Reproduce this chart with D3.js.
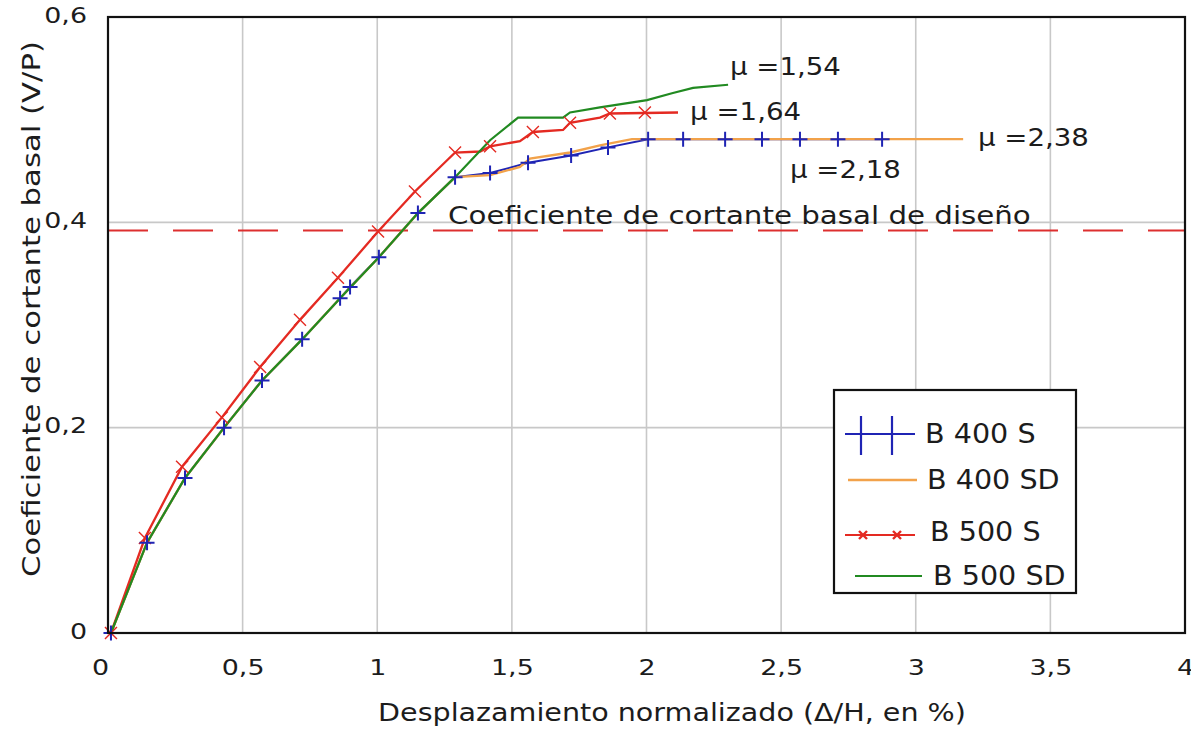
<!DOCTYPE html>
<html>
<head>
<meta charset="utf-8">
<script src="https://cdn.jsdelivr.net/npm/d3@7"></script>
<style>
  body { margin: 0; background: #fff; }
  svg { display: block; }
  text { font-family: "DejaVu Sans", Verdana, sans-serif; fill: #1c1c1c; }
</style>
</head>
<body>
<svg id="chart" width="1191" height="729"></svg>
<script>
// Pushover curves: base shear coefficient versus normalized roof drift

const xTicks = [0, 0.5, 1, 1.5, 2, 2.5, 3, 3.5, 4];
const yTicks = [0, 0.2, 0.4, 0.6];
const seriesNames = ["B 400 S", "B 400 SD", "B 500 S", "B 500 SD"];

// B 400 S (points carry markers)
const b400sX = [0.011, 0.145, 0.286, 0.431, 0.572, 0.721, 0.862, 0.899, 1.006, 1.151, 1.289, 1.419, 1.560, 1.720, 1.857, 2.006, 2.136, 2.292, 2.429, 2.570, 2.711, 2.875];
const b400sY = [0, 0.088, 0.151, 0.200, 0.246, 0.286, 0.326, 0.337, 0.366, 0.409, 0.444, 0.448, 0.458, 0.465, 0.473, 0.481, 0.481, 0.481, 0.481, 0.481, 0.481, 0.481];

// B 400 SD
const b400sdX = [0.011, 0.145, 0.286, 0.431, 0.572, 0.721, 0.862, 1.006, 1.151, 1.289, 1.419, 1.530, 1.567, 1.716, 1.827, 1.946, 3.176];
const b400sdY = [0, 0.088, 0.151, 0.200, 0.246, 0.286, 0.326, 0.366, 0.409, 0.444, 0.446, 0.454, 0.462, 0.468, 0.475, 0.481, 0.481];

// B 500 S (line and marker positions)
const b500sX = [0.011, 0.137, 0.275, 0.423, 0.565, 0.713, 0.854, 1.003, 1.140, 1.289, 1.382, 1.419, 1.530, 1.578, 1.690, 1.716, 1.827, 1.864, 2.117];
const b500sY = [0, 0.0925, 0.162, 0.210, 0.259, 0.305, 0.346, 0.391, 0.430, 0.468, 0.469, 0.474, 0.479, 0.488, 0.490, 0.497, 0.502, 0.506, 0.507];
const b500sMarkX = [0.011, 0.137, 0.275, 0.423, 0.565, 0.713, 0.854, 1.003, 1.140, 1.289, 1.419, 1.578, 1.716, 1.864, 1.994];
const b500sMarkY = [0, 0.0925, 0.162, 0.210, 0.259, 0.305, 0.346, 0.391, 0.430, 0.468, 0.474, 0.488, 0.497, 0.506, 0.507];

// B 500 SD
const b500sdX = [0.011, 0.145, 0.286, 0.431, 0.572, 0.721, 0.862, 1.006, 1.151, 1.289, 1.419, 1.523, 1.690, 1.716, 1.827, 2.002, 2.098, 2.173, 2.303];
const b500sdY = [0, 0.088, 0.151, 0.200, 0.246, 0.286, 0.326, 0.366, 0.409, 0.444, 0.480, 0.502, 0.502, 0.507, 0.512, 0.519, 0.526, 0.531, 0.534];

// Design base shear coefficient
const designCoef = 0.392;
const designText = "Coeficiente de cortante basal de diseño";

// Ductility annotations
const muText = ["μ =1,54", "μ =1,64", "μ =2,38", "μ =2,18"];
const muX = [2.310, 2.162, 3.231, 2.533];
const muY = [0.5435, 0.4997, 0.4743, 0.4432];

const xTitle = "Desplazamiento normalizado (Δ/H, en %)";
const yTitle = "Coeficiente de cortante basal (V/P)";

// ---------------------------------------------------------------------------
const COLORS = { b400s: "#1f24b4", b400sd: "#f2a24a", b500s: "#e42a22", b500sd: "#218a21" };
const plot = { left: 108, right: 1185, top: 17, bottom: 633 };

const svg = d3.select("#chart");
const x = d3.scaleLinear().domain([0, 4]).range([plot.left, plot.right]);
const y = d3.scaleLinear().domain([0, 0.6]).range([plot.bottom, plot.top]);
const fmt = d => String(d).replace(".", ",");

// Widen lettering horizontally, keeping the requested anchor.
function widen(sel, k, anchor) {
  sel.each(function () {
    const w = this.getComputedTextLength() * k;
    const x0 = +(this.getAttribute("x") || 0);
    this.setAttribute("textLength", w);
    this.setAttribute("lengthAdjust", "spacingAndGlyphs");
    this.setAttribute("text-anchor", "start");
    const shift = anchor === "middle" ? -w / 2 : anchor === "end" ? -w : 0;
    this.setAttribute("x", x0 + shift);
  });
}

// Grid
const grid = svg.append("g");
grid.selectAll("line.vx").data(xTicks.filter(d => d > 0 && d < 4)).join("line")
  .attr("x1", d => x(d)).attr("x2", d => x(d))
  .attr("y1", plot.top).attr("y2", plot.bottom)
  .attr("stroke", "#c8c8c8").attr("stroke-width", 1.6);
grid.selectAll("line.hy").data(yTicks.filter(d => d > 0 && d < 0.6)).join("line")
  .attr("x1", plot.left).attr("x2", plot.right)
  .attr("y1", d => y(d)).attr("y2", d => y(d))
  .attr("stroke", "#c8c8c8").attr("stroke-width", 1.6);

// Axes (labels only, frame drawn separately)
const xAxis = svg.append("g").attr("transform", `translate(0,${plot.bottom})`)
  .call(d3.axisBottom(x).tickValues(xTicks).tickSize(0).tickFormat(fmt));
xAxis.select(".domain").remove();
xAxis.selectAll("text")
  .attr("font-size", 21).attr("font-family", "DejaVu Sans, sans-serif")
  .attr("fill", "#1c1c1c")
  .attr("y", 42).attr("dy", 0)
  .attr("x", d => d === 0 ? -8 : 0);
widen(xAxis.selectAll("text"), 1.28, "middle");

const yAxis = svg.append("g").attr("transform", `translate(${plot.left},0)`)
  .call(d3.axisLeft(y).tickValues(yTicks).tickSize(0).tickFormat(fmt));
yAxis.select(".domain").remove();
yAxis.selectAll("text")
  .attr("font-size", 21).attr("font-family", "DejaVu Sans, sans-serif")
  .attr("fill", "#1c1c1c")
  .attr("x", -21).attr("y", 5).attr("dy", 0);
widen(yAxis.selectAll("text"), 1.28, "end");

// Design coefficient line
svg.append("line")
  .attr("x1", plot.left).attr("x2", plot.right)
  .attr("y1", y(designCoef)).attr("y2", y(designCoef))
  .attr("stroke", "#dd2f2f").attr("stroke-width", 2)
  .attr("stroke-dasharray", "40,25");

const line = d3.line().x(d => x(d[0])).y(d => y(d[1]));
const plotG = svg.append("g");

plotG.append("path").datum(d3.zip(b400sX, b400sY)).attr("d", line)
  .attr("fill", "none").attr("stroke", COLORS.b400s).attr("stroke-width", 2);
plotG.append("path").datum(d3.zip(b400sdX, b400sdY)).attr("d", line)
  .attr("fill", "none").attr("stroke", COLORS.b400sd).attr("stroke-width", 2.4);
plotG.append("path").datum(d3.zip(b500sX, b500sY)).attr("d", line)
  .attr("fill", "none").attr("stroke", COLORS.b500s).attr("stroke-width", 2.3);
plotG.append("path").datum(d3.zip(b500sdX, b500sdY)).attr("d", line)
  .attr("fill", "none").attr("stroke", COLORS.b500sd).attr("stroke-width", 2.2);

// Markers: "x" for B 500 S, "+" for B 400 S
const xMark = 6, pMark = 7.5;
plotG.selectAll("path.mx").data(d3.zip(b500sMarkX, b500sMarkY)).join("path")
  .attr("d", d => {
    const cx = x(d[0]), cy = y(d[1]);
    return `M${cx - xMark},${cy - xMark}L${cx + xMark},${cy + xMark}M${cx - xMark},${cy + xMark}L${cx + xMark},${cy - xMark}`;
  })
  .attr("stroke", COLORS.b500s).attr("stroke-width", 1.4).attr("fill", "none");
plotG.selectAll("path.mp").data(d3.zip(b400sX, b400sY)).join("path")
  .attr("d", d => {
    const cx = x(d[0]), cy = y(d[1]);
    return `M${cx - pMark},${cy}L${cx + pMark},${cy}M${cx},${cy - pMark}L${cx},${cy + pMark}`;
  })
  .attr("stroke", COLORS.b400s).attr("stroke-width", 2).attr("fill", "none");

// Frame
svg.append("rect")
  .attr("x", plot.left).attr("y", plot.top)
  .attr("width", plot.right - plot.left).attr("height", plot.bottom - plot.top)
  .attr("fill", "none").attr("stroke", "#111").attr("stroke-width", 2.2);

// Captions
const cap = svg.append("text")
  .attr("x", x(1.263)).attr("y", y(designCoef) - 7)
  .attr("font-size", 24).text(designText);
widen(cap, 1.22, "start");

const mu = svg.append("g").selectAll("text").data(d3.range(muText.length)).join("text")
  .attr("x", i => x(muX[i])).attr("y", i => y(muY[i]))
  .attr("font-size", 24).text(i => muText[i]);
widen(mu, 1.15, "start");

// Axis titles
const xt = svg.append("text").attr("x", 672).attr("y", 721)
  .attr("font-size", 24).text(xTitle);
widen(xt, 1.19, "middle");

const ytG = svg.append("g").attr("transform", `translate(40,${(plot.top + plot.bottom) / 2 - 16}) rotate(-90)`);
const yt = ytG.append("text").attr("x", 0).attr("y", 0).attr("font-size", 24).text(yTitle);
widen(yt, 1.28, "middle");

// Legend
const lg = svg.append("g").attr("transform", "translate(834,390)");
lg.append("rect").attr("width", 242).attr("height", 203)
  .attr("fill", "#fff").attr("stroke", "#111").attr("stroke-width", 2.2);
const rowY = [44, 90, 142, 186];
const textX = [91, 93, 96, 99];
const entries = lg.selectAll("g.entry").data(seriesNames).join("g")
  .attr("transform", (d, i) => `translate(0,${rowY[i]})`);
// B 400 S sample: line with two tall ticks
const e0 = entries.filter((d, i) => i === 0);
e0.append("line").attr("x1", 11).attr("x2", 81).attr("stroke", COLORS.b400s).attr("stroke-width", 2.2);
e0.selectAll("line.tk").data([27, 58]).join("line")
  .attr("x1", d => d).attr("x2", d => d).attr("y1", -18).attr("y2", 21)
  .attr("stroke", COLORS.b400s).attr("stroke-width", 2.2);
// B 400 SD sample
entries.filter((d, i) => i === 1).append("line").attr("x1", 14).attr("x2", 83)
  .attr("stroke", COLORS.b400sd).attr("stroke-width", 2.4);
// B 500 S sample: line with two crosses
const e2 = entries.filter((d, i) => i === 2);
e2.append("line").attr("x1", 11).attr("x2", 81).attr("y1", 3).attr("y2", 3)
  .attr("stroke", COLORS.b500s).attr("stroke-width", 2.2);
e2.selectAll("path.cx").data([29, 63]).join("path")
  .attr("d", d => `M${d - 4},-1L${d + 4},7M${d - 4},7L${d + 4},-1`)
  .attr("stroke", COLORS.b500s).attr("stroke-width", 2.4);
// B 500 SD sample
entries.filter((d, i) => i === 3).append("line").attr("x1", 21).attr("x2", 88)
  .attr("stroke", COLORS.b500sd).attr("stroke-width", 2.2);

const lt = entries.append("text")
  .attr("x", (d, i) => textX[i]).attr("y", 9)
  .attr("font-size", 26).text(d => d);
widen(lt, 1.1, "start");
</script>
</body>
</html>
